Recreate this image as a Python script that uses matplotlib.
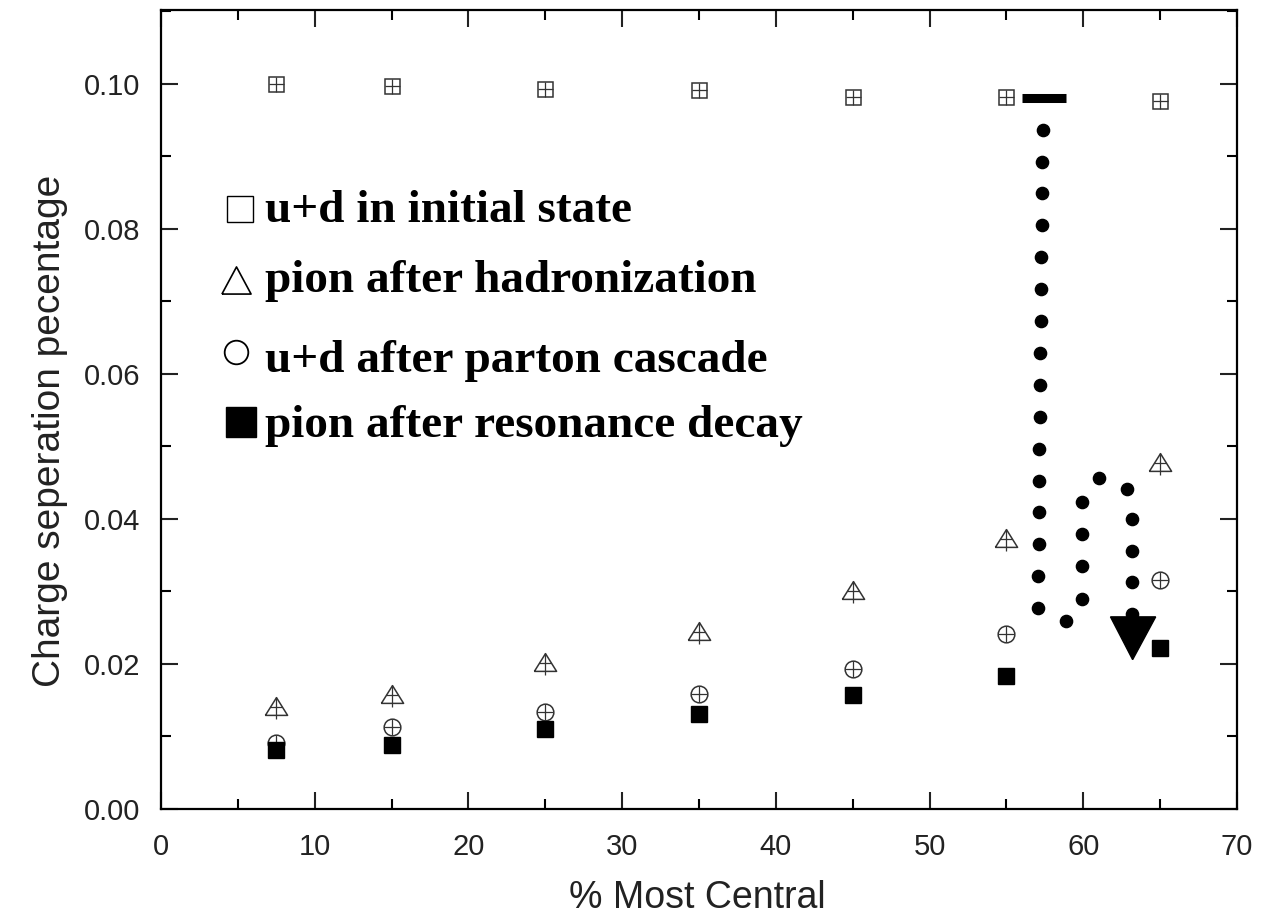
import matplotlib
matplotlib.use("Agg")
import matplotlib.pyplot as plt
from matplotlib.ticker import MultipleLocator, FormatStrFormatter
from matplotlib.patches import Polygon
from matplotlib.path import Path

# data
centrality = [7.5, 15, 25, 35, 45, 55, 65]
ud_initial = [0.1000, 0.0997, 0.0993, 0.0992, 0.0982, 0.0982, 0.0977]
pion_hadron = [0.0142, 0.0159, 0.0203, 0.0246, 0.0302, 0.0374, 0.0479]
ud_cascade = [0.0091, 0.0113, 0.0134, 0.0159, 0.0193, 0.0241, 0.0316]
pion_decay = [0.0081, 0.0088, 0.0110, 0.0131, 0.0157, 0.0183, 0.0222]

legend_labels = ["u+d in initial state", "pion after hadronization",
                 "u+d after parton cascade", "pion after resonance decay"]

# dotted arrow path (decoration)
arrow_dots_x = [57.35, 57.33, 57.31, 57.29, 57.27, 57.25, 57.23, 57.21, 57.19, 57.17,
                57.15, 57.13, 57.11, 57.09, 57.07, 57.05,
                58.9, 59.94, 59.94, 59.94, 59.94, 60.99,
                62.82, 63.14, 63.14, 63.14, 63.2]
arrow_dots_y = [0.0937, 0.0893, 0.0849, 0.0805, 0.0761, 0.0717, 0.0673, 0.0629, 0.0585, 0.0541,
                0.0497, 0.0453, 0.0409, 0.0365, 0.0321, 0.0277,
                0.0259, 0.0290, 0.0335, 0.0379, 0.0423, 0.0457,
                0.0441, 0.0400, 0.0356, 0.0313, 0.0269]

sans = ["Liberation Sans", "DejaVu Sans"]
serif = ["Liberation Serif", "DejaVu Serif"]

fig = plt.figure(figsize=(12.82, 9.19), dpi=100)
ax = fig.add_axes([0.1256, 0.1197, 0.8393, 0.8694])

# marker shapes
tri = [(-1, -0.8), (1, -0.8), (0, 0.8), (-1, -0.8)]
tri_stem = Path([(0, 0.8), (0, -1.2), (-0.5, -0.1), (0.5, -0.1)],
                [Path.MOVETO, Path.LINETO, Path.MOVETO, Path.LINETO])

gray = "#333333"
ax.plot(centrality, ud_initial, ls="none", marker="s", ms=10.8, mfc="white", mec=gray, mew=1.1)
ax.plot(centrality, ud_initial, ls="none", marker="+", ms=10.8, mec=gray, mew=0.9)
ax.plot(centrality, pion_hadron, ls="none", marker=tri, ms=16, mfc="white", mec=gray, mew=1.1)
ax.plot(centrality, pion_hadron, ls="none", marker=tri_stem, ms=19.2, mec=gray, mew=0.9)
ax.plot(centrality, ud_cascade, ls="none", marker="o", ms=12, mfc="white", mec=gray, mew=1.1)
ax.plot(centrality, ud_cascade, ls="none", marker="+", ms=12, mec=gray, mew=0.9)
ax.plot(centrality, pion_decay, ls="none", marker="s", ms=11.5, mfc="black", mec="black")

# annotation: bar, dotted path, arrowhead
ax.plot([56.03, 58.9], [0.0981, 0.0981], color="black", lw=6.5, solid_capstyle="butt")
ax.plot(arrow_dots_x, arrow_dots_y, ls="none", marker="o", ms=8.8, color="black")
ax.add_patch(Polygon([(61.77, 0.0265), (64.71, 0.0265), (63.21, 0.0206)],
                     closed=True, color="black"))

ax.set_xlim(0, 70)
ax.set_ylim(0, 0.1102)
ax.xaxis.set_major_locator(MultipleLocator(10))
ax.xaxis.set_minor_locator(MultipleLocator(5))
ax.yaxis.set_major_locator(MultipleLocator(0.02))
ax.yaxis.set_minor_locator(MultipleLocator(0.01))
ax.yaxis.set_major_formatter(FormatStrFormatter("%.2f"))
ax.tick_params(which="both", direction="in", top=True, right=True, width=1.5)
ax.tick_params(which="major", length=12, labelsize=21, colors="#222222")
ax.tick_params(which="minor", length=7)
ax.tick_params(axis="x", which="major", pad=17)
ax.tick_params(axis="y", which="major", pad=15)
for lab in ax.get_xticklabels() + ax.get_yticklabels():
    lab.set_family(sans)
for sp in ax.spines.values():
    sp.set_linewidth(1.6)

ax.set_xlabel("% Most Central", fontsize=27, family=sans, color="#222222")
ax.set_ylabel("Charge seperation pecentage", fontsize=28, family=sans, color="#222222")
ax.xaxis.set_label_coords(0.498, -0.089)
ax.yaxis.set_label_coords(-0.086, 0.473)

# legend drawn as symbols + bold serif text
sym_x = [5.14, 4.88, 4.88, 5.2]
sym_y = [0.0827, 0.0730, 0.0630, 0.0534]
ax.plot(sym_x[0], sym_y[0], marker="s", ms=18.5, mfc="white", mec="black", mew=1.0)
ax.plot(sym_x[1], sym_y[1], marker=[(-1, -0.93), (1, -0.93), (0, 0.93), (-1, -0.93)],
        ms=21, mfc="white", mec="black", mew=1.2)
ax.plot(sym_x[2], sym_y[2], marker="o", ms=17, mfc="white", mec="black", mew=1.3)
ax.plot(sym_x[3], sym_y[3], marker="s", ms=22, mfc="black", mec="black")

label_y = [0.0810, 0.0713, 0.0603, 0.0513]
for lab, yy in zip(legend_labels, label_y):
    ax.text(6.75, yy, lab, fontsize=34, fontweight="bold", va="baseline", ha="left",
            family=serif)

fig.savefig("out.png", dpi=100)
